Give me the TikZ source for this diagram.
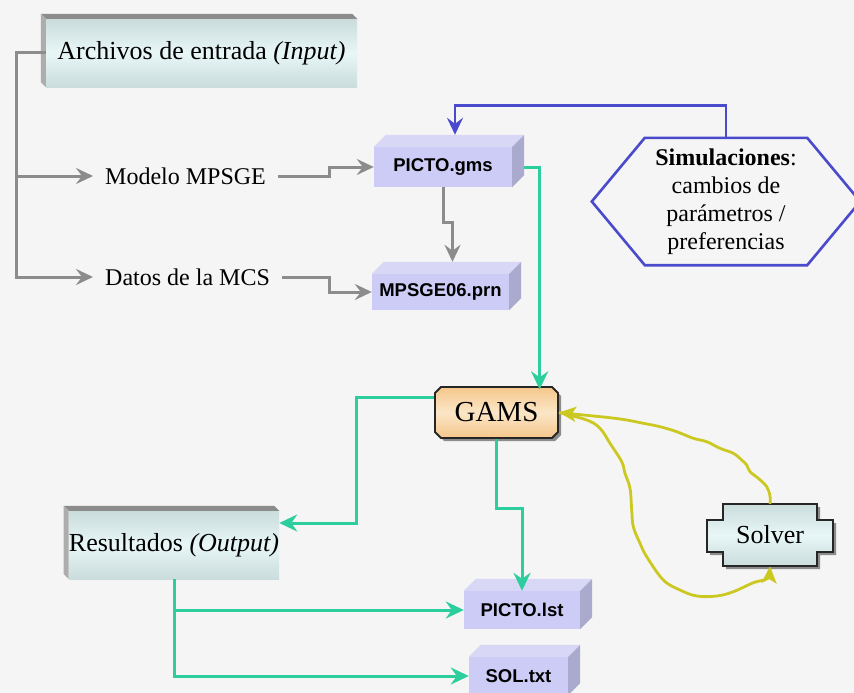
\documentclass[tikz,border=0pt]{standalone}
\usepackage{fontspec}
\setmainfont{Liberation Serif}
\newfontfamily\filefont{Liberation Sans}
\usetikzlibrary{calc, positioning, shapes.misc, arrows.meta, shadows}

\definecolor{backgray}{RGB}{245,245,245}
\definecolor{linegray}{RGB}{140,140,140}
\definecolor{flowgreen}{RGB}{44,206,158}
\definecolor{simblue}{RGB}{74,74,204}
\definecolor{solveryellow}{RGB}{204,200,34}
\definecolor{fileface}{RGB}{204,204,246}
\definecolor{filetop}{RGB}{216,216,246}
\definecolor{fileside}{RGB}{170,170,206}
\definecolor{panellight}{RGB}{232,246,246}
\definecolor{paneldark}{RGB}{202,220,220}
\definecolor{gamslight}{RGB}{251,230,200}
\definecolor{gamsdark}{RGB}{245,198,138}

\def\boxdepth{12}
\tikzstyle{file}=[fill=fileface, inner sep=0pt, font=\filefont\bfseries\fontsize{18.5}{22}\selectfont]
\tikzstyle{panel}=[top color=paneldark, bottom color=paneldark, middle color=panellight, inner sep=0pt, minimum height=68pt, font=\fontsize{26}{30}\selectfont]
\tikzstyle{annot}=[inner xsep=12pt, font=\fontsize{24}{28}\selectfont]
\tikzstyle{grayarrow}=[draw=linegray, line width=3pt, -{Stealth[length=17pt, width=16pt, inset=6pt]}]
\tikzstyle{greenarrow}=[draw=flowgreen, line width=3pt, -{Stealth[length=18pt, width=17pt, inset=6pt]}]
\tikzstyle{bluearrow}=[draw=simblue, line width=2.8pt, -{Stealth[length=17pt, width=16pt, inset=6pt]}]
\tikzstyle{yellowarrow}=[draw=solveryellow, line width=2.8pt, -{Stealth[length=17pt, width=15pt, inset=4pt]}]

% front face of a file box gets a top and a side face
\newcommand{\filefaces}[1]{%
  \fill[filetop] (#1.north west) -- ++(\boxdepth,-\boxdepth) -- ($(#1.north east)+(\boxdepth,-\boxdepth)$) -- (#1.north east) -- cycle;
  \fill[fileside] (#1.north east) -- ++(\boxdepth,-\boxdepth) -- ($(#1.south east)+(\boxdepth,-\boxdepth)$) -- (#1.south east) -- cycle;}
% dark rim above and left of a panel
\newcommand{\panelrim}[1]{%
  \fill[black!45] ($(#1.north west)+(-5,-5)$) -- ($(#1.north east)+(-5,-5)$) -- (#1.north east) -- (#1.north west) -- cycle;
  \fill[black!32] ($(#1.north west)+(-5,-5)$) -- (#1.north west) -- (#1.south west) -- ($(#1.south west)+(-5,-5)$) -- cycle;}

\begin{document}
\begin{tikzpicture}[x=1pt, y=-1pt]

	\useasboundingbox (0,0) rectangle (854,693);
	\fill[backgray] (0,0) rectangle (854,693);

	% Input and output panels
	\node[panel, minimum width=311pt] (arch) at (201.5,53) {Archivos de entrada \textit{(Input)}};
	\panelrim{arch}
	\node[panel, minimum width=210pt] (res) at (174,545) {Resultados \textit{(Output)}};
	\panelrim{res}

	% Input files
	\node[annot, anchor=west] (modelo) at (93,176) {Modelo MPSGE};
	\node[annot, anchor=west] (datos) at (93,277) {Datos de la MCS};

	% File boxes
	\node[file, minimum width=138pt, minimum height=40pt] (gms) at (443,167) {PICTO.gms};
	\filefaces{gms}
	\node[file, minimum width=137pt, minimum height=36pt] (prn) at (440.5,292) {MPSGE06.prn};
	\filefaces{prn}
	\node[file, minimum width=116pt, minimum height=38pt] (lst) at (522,610) {PICTO.lst};
	\filefaces{lst}
	\node[file, minimum width=99pt, minimum height=38pt] (sol) at (518.5,676) {SOL.txt};
	\filefaces{sol}

	% GAMS
	\node[chamfered rectangle, chamfered rectangle xsep=3pt, chamfered rectangle ysep=3pt,
		draw=black!85, line width=1.8pt, top color=gamsdark, bottom color=gamsdark, middle color=gamslight,
		drop shadow={shadow xshift=3pt, shadow yshift=-3pt, fill=black!45, opacity=1},
		minimum width=123pt, minimum height=51pt, inner sep=0pt, font=\fontsize{29}{32}\selectfont]
		(gams) at (496.5,412.5) {GAMS};

	% Solver
	\coordinate (solverc) at (770,535);
	\draw[draw=black!85, line width=1.8pt, top color=paneldark, bottom color=paneldark, middle color=panellight,
		drop shadow={shadow xshift=3pt, shadow yshift=-3pt, fill=black!45, opacity=1}]
		($(solverc)+(-47,-31)$) -- ++(94,0) -- ++(0,16) -- ++(16,0) -- ++(0,32) -- ++(-16,0)
		-- ++(0,14) -- ++(-94,0) -- ++(0,-14) -- ++(-16,0) -- ++(0,-32) -- ++(16,0) -- cycle;
	\node[minimum width=94pt, minimum height=62pt, inner sep=0pt, font=\fontsize{26}{30}\selectfont] (solver) at (solverc) {Solver};

	% Simulaciones
	\node[minimum width=162pt, minimum height=127pt, inner sep=0pt, align=center, font=\fontsize{24}{28}\selectfont]
		(sim) at (726,201.5) {\textbf{Simulaciones}:\\cambios de\\parámetros /\\preferencias};
	\draw[simblue, line width=2.6pt] (sim.north west) -- (sim.north east) -- ($(sim.east)+(53,0)$)
		-- (sim.south east) -- (sim.south west) -- ($(sim.west)+(-53,0)$) -- cycle;

	% Gray connectors
	\draw[grayarrow] (arch.west) -- ++(-29,0) coordinate (trunk) |- (datos.west);
	\draw[grayarrow] (trunk) |- (modelo.west);
	\draw[grayarrow] (modelo.east) -| ([xshift=-44pt]gms.west) |- (gms.west);
	\draw[grayarrow] (datos.east) -| ([xshift=-42pt]prn.west) |- (prn.west);
	\draw[grayarrow] (gms.south) -- ++(0,35) -| ($(prn.north)+(\boxdepth,-\boxdepth)$);

	% Blue connector
	\draw[bluearrow] (sim.north) -- ++(0,-32) -| ($(gms.north)+(\boxdepth,-\boxdepth)$);

	% Green connectors
	\draw[greenarrow] ($(gms.east)+(\boxdepth,0)$) -| ([xshift=-16pt]gams.north east);
	\draw[greenarrow] ([yshift=15pt]gams.west) -- ++(-78,0) |- ([yshift=22pt]res.east);
	\draw[greenarrow] (gams.south) -- ++(0,70) -| (lst.north);
	\draw[greenarrow] (res.south) |- (lst.west);
	\draw[greenarrow] (res.south) |- (sol.west);

	% Yellow connectors
	\draw[yellowarrow] plot[smooth, tension=0.6] coordinates {(solver.north) (770,496) (766.7,486.7) (758.3,478.3)
		(750,471.7) (746.7,465) (741.7,460) (733.3,453.3) (720,448.3) (706.7,441.7) (693.3,438.3) (676.7,431.7)
		(660,426.7) (643.3,423.3) (626.7,420) (610,417.7) (593.3,416) (gams.east)};
	\draw[yellowarrow] plot[smooth, tension=0.6] coordinates {(gams.east) (586.7,420) (600,428.3) (610,443.3)
		(621.7,461.7) (625,473.3) (630,488.3) (631.7,510) (633.3,526.7) (640,543.3) (646.7,556.7) (663.3,580)
		(680,590) (696.7,596) (716.7,596) (733.3,591.7) (753.3,582.7) (766.7,578.3) (solver.south)};
\end{tikzpicture}
\end{document}
